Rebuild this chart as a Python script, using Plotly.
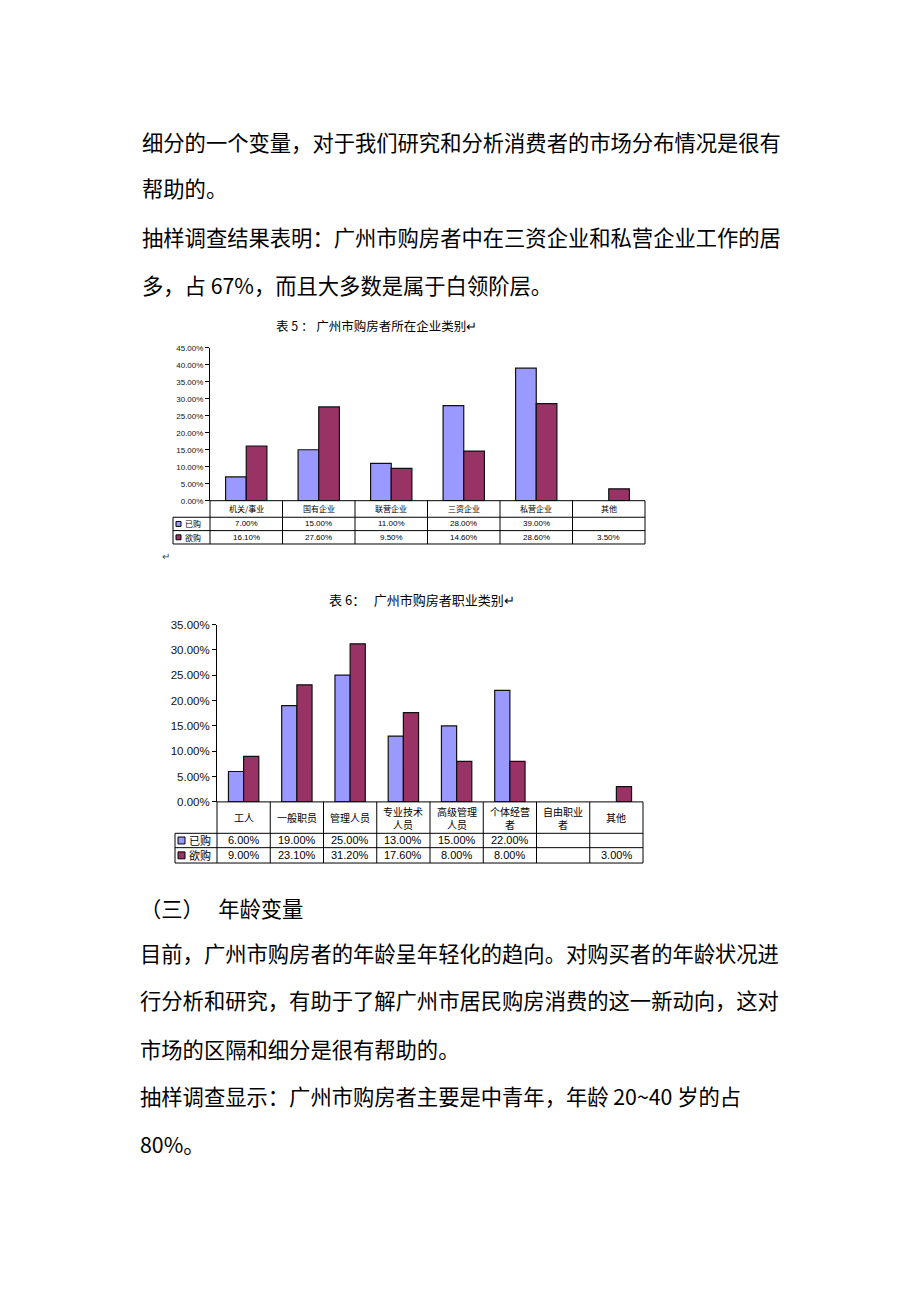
import plotly.graph_objects as go

W, H = 920, 1302
def px(x): return x / W
def py(y): return 1 - y / H

# ---------------- data ----------------
series_names = ["已购", "欲购"]
series_colors = ["#9999FF", "#993366"]

title5 = "表 5 ： 广州市购房者所在企业类别↵"
cats5 = ["机关/事业", "国有企业", "联营企业", "三资企业", "私营企业", "其他"]
bought5 = [7.00, 15.00, 11.00, 28.00, 39.00, None]
want5 = [16.10, 27.60, 9.50, 14.60, 28.60, 3.50]
ticks5 = [0, 5, 10, 15, 20, 25, 30, 35, 40, 45]

title6 = "表 6：   广州市购房者职业类别↵"
cats6 = ["工人", "一般职员", "管理人员", "专业技术<br>人员", "高级管理<br>人员",
         "个体经营<br>者", "自由职业<br>者", "其他"]
bought6 = [6.00, 19.00, 25.00, 13.00, 15.00, 22.00, None, None]
want6 = [9.00, 23.10, 31.20, 17.60, 8.00, 8.00, None, 3.00]
ticks6 = [0, 5, 10, 15, 20, 25, 30, 35]

para_top = [
    "细分的一个变量，对于我们研究和分析消费者的市场分布情况是很有",
    "帮助的。",
    "抽样调查结果表明：广州市购房者中在三资企业和私营企业工作的居",
    "多，占 67%，而且大多数是属于白领阶层。",
]
para_bottom = [
    "（三）   年龄变量",
    "目前，广州市购房者的年龄呈年轻化的趋向。对购买者的年龄状况进",
    "行分析和研究，有助于了解广州市居民购房消费的这一新动向，这对",
    "市场的区隔和细分是很有帮助的。",
    "抽样调查显示：广州市购房者主要是中青年，年龄 20~40 岁的占",
    "80%。",
]

# ---------------- layout geometry ----------------
TXT_FONT = "Noto Sans CJK SC"
charts = [
    dict(title=title5, cats=cats5, vals=[bought5, want5], ticks=ticks5,
         x0=210, x1=645, ytop=345, y0=499.3, r1=516, r2=529.5, r3=543, leg=173,
         title_xy=(376, 322), title_size=12.5, tick_size=8, cell_size=8,
         cat_size=8, sq=5, xa="x", ya="y"),
    dict(title=title6, cats=cats6, vals=[bought6, want6], ticks=ticks6,
         x0=217, x1=643, ytop=624.3, y0=803.3, r1=835, r2=849.5, r3=865, leg=175,
         title_xy=(422, 599), title_size=13, tick_size=11.5, cell_size=11,
         cat_size=10, sq=7, xa="x2", ya="y2"),
]

fig = go.Figure()
shapes, annos = [], []

def hline(y, xa, xb, w=1, c="#000"):
    shapes.append(dict(type="line", xref="paper", yref="paper", x0=px(xa), x1=px(xb),
                       y0=py(y), y1=py(y), line=dict(color=c, width=w)))

def vline(x, ya, yb, w=1, c="#000"):
    shapes.append(dict(type="line", xref="paper", yref="paper", x0=px(x), x1=px(x),
                       y0=py(ya), y1=py(yb), line=dict(color=c, width=w)))

def text(x, y, s, size, anchor="center", color="#000", family=TXT_FONT):
    annos.append(dict(xref="paper", yref="paper", x=px(x), y=py(y), text=s,
                      showarrow=False, xanchor=anchor, yanchor="middle",
                      font=dict(size=size, color=color, family=family)))

for i, ch in enumerate(charts):
    axn = "" if i == 0 else "2"
    n = len(ch["cats"])
    for s in range(2):
        fig.add_trace(go.Bar(
            x=list(range(n)), y=ch["vals"][s], name=series_names[s],
            marker=dict(color=series_colors[s], line=dict(color="#111", width=1.2)),
            xaxis=ch["xa"], yaxis=ch["ya"], showlegend=False))
    fig.layout["xaxis" + axn] = dict(
        domain=[px(ch["x0"]), px(ch["x1"])], range=[-0.5, n - 0.5],
        showticklabels=False, showline=False, showgrid=False, zeroline=False,
        anchor="y" + axn)
    fig.layout["yaxis" + axn] = dict(
        domain=[py(ch["y0"]), py(ch["ytop"])], range=[0, ch["ticks"][-1]],
        tickvals=ch["ticks"], ticktext=[f"{t:.2f}%" for t in ch["ticks"]],
        showline=True, linecolor="#000", linewidth=1, ticks="outside", ticklen=4,
        tickcolor="#000", showgrid=False, zeroline=False, anchor="x" + axn,
        tickfont=dict(size=ch["tick_size"], color="#111",
                      family="Liberation Sans"))

    # table
    x0, x1, y0, r1, r2, r3, leg = ch["x0"], ch["x1"], ch["y0"], ch["r1"], ch["r2"], ch["r3"], ch["leg"]
    cw = (x1 - x0) / n
    hline(y0, x0, x1)
    for r in (r1, r2, r3):
        hline(r, leg, x1)
    for k in range(n + 1):
        vline(x0 + k * cw, y0, r3)
    vline(leg, r1, r3)
    for k, c in enumerate(ch["cats"]):
        text(x0 + (k + 0.5) * cw, (y0 + r1) / 2, c, ch["cat_size"])
    rows = [(r1, r2), (r2, r3)]
    for s in range(2):
        ya, yb = rows[s]
        ym = (ya + yb) / 2
        sq = ch["sq"]
        shapes.append(dict(type="rect", xref="paper", yref="paper",
                           x0=px(leg + 3), x1=px(leg + 3 + sq),
                           y0=py(ym + sq / 2), y1=py(ym - sq / 2),
                           fillcolor=series_colors[s], line=dict(color="#000", width=1)))
        text(leg + 5 + sq, ym, series_names[s], ch["cell_size"], anchor="left")
        for k, v in enumerate(ch["vals"][s]):
            if v is not None:
                text(x0 + (k + 0.5) * cw, ym, f"{v:.2f}%", ch["cell_size"],
                     family="Liberation Sans")
    tx, ty = ch["title_xy"]
    text(tx, ty, ch["title"], ch["title_size"])

# paragraphs
for s, y in zip(para_top, [137, 183, 233, 281]):
    text(140, y, s, 21.3, anchor="left")
for s, y in zip(para_bottom, [910, 955, 1003, 1052, 1100, 1148]):
    text(138, y, s, 21.3, anchor="left")
text(160, 555, "↵", 10, anchor="left", color="#444")

fig.update_layout(
    width=W, height=H, margin=dict(l=0, r=0, t=0, b=0),
    paper_bgcolor="white", plot_bgcolor="white",
    barmode="group", bargap=0.43, bargroupgap=0,
    shapes=shapes, annotations=annos,
)

fig.write_html("out.html", config={"displayModeBar": False},
               post_script="document.body.style.margin='0';document.body.style.overflow='hidden';")
